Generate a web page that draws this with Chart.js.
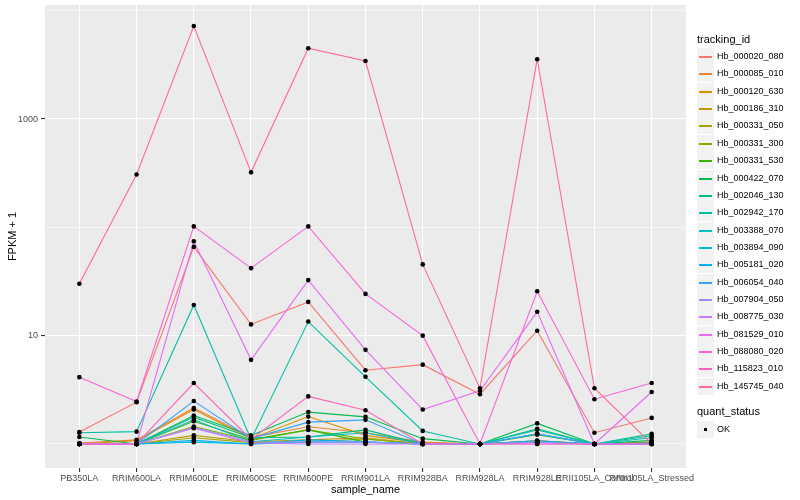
<!DOCTYPE html>
<html>
<head>
<meta charset="utf-8">
<script src="https://cdn.jsdelivr.net/npm/chart.js@4.4.1/dist/chart.umd.min.js"></script>
<style>
  body { margin: 0; background: #fff; font-family: "Liberation Sans", Arial, sans-serif; }
  #wrap { position: relative; width: 800px; height: 500px; }
  #legend { position: absolute; left: 697px; top: 0; font-size: 9px; color: #000; }
  .ltitle { position: absolute; left: 0; font-size: 11px; white-space: nowrap; }
  .row { position: absolute; left: 0; height: 17px; width: 100px; }
  .key { position: absolute; left: 0; top: 0; width: 17px; height: 17px; background: #f2f2f2; }
  .key i { position: absolute; left: 2px; right: 2px; top: 8px; height: 1.5px; }
  .key b { position: absolute; left: 7px; top: 7px; width: 3px; height: 3px; background: #000; }
  .lab { position: absolute; left: 20px; top: 3px; white-space: nowrap; }
</style>
</head>
<body>
<div id="wrap">
  <canvas id="chart" width="800" height="500"></canvas>
  <div id="legend"></div>
</div>
<script>
// Categories and tick labels
const categories = ["PB350LA", "RRIM600LA", "RRIM600LE", "RRIM600SE", "RRIM600PE", "RRIM901LA",
    "RRIM928BA", "RRIM928LA", "RRIM928LE", "RRII105LA_Control", "RRII105LA_Stressed"];
const yTickValues = [1, 10, 100, 1000, 10000];
const yTickLabels = ["", "10", "", "1000", ""];

const trackingIds = ["Hb_000020_080", "Hb_000085_010", "Hb_000120_630", "Hb_000186_310", "Hb_000331_050",
    "Hb_000331_300", "Hb_000331_530", "Hb_000422_070", "Hb_002046_130", "Hb_002942_170",
    "Hb_003388_070", "Hb_003894_090", "Hb_005181_020", "Hb_006054_040", "Hb_007904_050",
    "Hb_008775_030", "Hb_081529_010", "Hb_088080_020", "Hb_115823_010", "Hb_145745_040"];
const seriesColors = ["#F8766D", "#EA8331", "#D89000", "#C09B00", "#A3A500", "#7CAE00", "#39B600",
    "#00BB4E", "#00BF7D", "#00C1A3", "#00BFC4", "#00BAE0", "#00B0F6", "#35A2FF", "#9590FF",
    "#C77CFF", "#E76BF3", "#FA62DB", "#FF62BC", "#FF6C91"];

// FPKM + 1 per sample
const hb000020_080 = [1.29, 2.43, 66, 12.7, 20.5, 4.8, 5.4, 2.88, 11.1, 1.27, 1.74];
const hb000085_010 = [1.02, 1.09, 2.15, 1.15, 1.44, 1.27, 1.04, 1, 1.05, 1, 1.04];
const hb000120_630 = [1, 1.07, 2.08, 1.12, 1.79, 1.2, 1.02, 1, 1.04, 1, 1.03];
const hb000186_310 = [1, 1, 1.2, 1.05, 1.09, 1.14, 1, 1, 1.07, 1, 1.02];
const hb000331_050 = [1, 1, 1.14, 1.03, 1.05, 1.11, 1, 1, 1.04, 1, 1];
const hb000331_300 = [1, 1, 1.45, 1.08, 1.35, 1.11, 1, 1, 1.07, 1, 1.02];
const hb000331_530 = [1, 1, 1.62, 1.1, 1.35, 1.04, 1, 1, 1.22, 1, 1.02];
const hb000422_070 = [1.16, 1, 1.83, 1.2, 1.97, 1.78, 1.12, 1, 1.55, 1, 1.08];
const hb002046_130 = [1, 1, 1.77, 1.14, 1.16, 1.35, 1, 1, 1.38, 1, 1.19];
const hb002942_170 = [1.27, 1.3, 19.2, 1.1, 13.5, 4.17, 1.32, 1, 1.35, 1, 1.24];
const hb003388_070 = [1, 1, 1.67, 1.05, 1.16, 1.27, 1, 1, 1.24, 1, 1.14];
const hb003894_090 = [1, 1, 1.04, 1, 1.04, 1.04, 1, 1, 1.04, 1, 1];
const hb005181_020 = [1, 1, 1.08, 1, 1.09, 1.05, 1, 1, 1.07, 1, 1];
const hb006054_040 = [1, 1, 2.49, 1.12, 1.59, 1.67, 1, 1, 1.24, 1, 1.02];
const hb007904_050 = [1, 1, 1.42, 1.05, 1.04, 1.04, 1, 1, 1.04, 1, 1];
const hb008775_030 = [1, 1, 1.4, 1.02, 1, 1, 1, 1, 1, 1, 1];
const hb081529_010 = [1, 1, 74.5, 5.98, 32.6, 7.4, 2.08, 3.1, 16.6, 1, 3.02];
const hb088080_020 = [4.14, 2.47, 102, 42, 102, 24.3, 10, 1, 25.7, 2.59, 3.65];
const hb115823_010 = [1, 1, 3.65, 1.1, 2.75, 2.05, 1, 1, 1, 1, 1];
const hb145745_040 = [30.2, 308, 7240, 322, 4510, 3430, 45.5, 3.27, 3570, 3.27, 1];

const seriesValues = [hb000020_080, hb000085_010, hb000120_630, hb000186_310, hb000331_050,
    hb000331_300, hb000331_530, hb000422_070, hb002046_130, hb002942_170, hb003388_070,
    hb003894_090, hb005181_020, hb006054_040, hb007904_050, hb008775_030, hb081529_010,
    hb088080_020, hb115823_010, hb145745_040];

const n = seriesValues.length;
const datasets = seriesValues.map((vals, s) => ({
    type: "line",
    label: trackingIds[s],
    data: vals.map((v, i) => ({ x: i, y: v })),
    borderColor: seriesColors[s],
    borderWidth: 1.1,
    pointRadius: 0,
    tension: 0,
    order: n - s + 1, // later levels on top, like ggplot
}));
// all points in black, drawn above every line
datasets.push({
    type: "scatter",
    label: "OK",
    data: seriesValues.flatMap((vals) => vals.map((v, i) => ({ x: i, y: v }))),
    pointBackgroundColor: "#000",
    pointBorderWidth: 0,
    pointRadius: 2.3,
    order: 0,
});

// grey panel
const panelBg = {
    id: "panelBg",
    beforeDraw(chart) {
        const a = chart.chartArea;
        chart.ctx.save();
        chart.ctx.fillStyle = "#EBEBEB";
        chart.ctx.fillRect(a.left, a.top, a.right - a.left, a.bottom - a.top);
        chart.ctx.restore();
    },
};

const tickFont = { family: "'Liberation Sans', Arial, sans-serif", size: 9 };
const titleFont = { family: "'Liberation Sans', Arial, sans-serif", size: 11 };

new Chart(document.getElementById("chart"), {
    data: { datasets },
    plugins: [panelBg],
    options: {
        responsive: false,
        animation: false,
        events: [],
        layout: { padding: { top: 5, right: 114, left: 0, bottom: 0 } },
        plugins: { legend: { display: false }, tooltip: { enabled: false } },
        scales: {
            x: {
                type: "linear",
                min: -0.6,
                max: categories.length - 1 + 0.6,
                afterBuildTicks: (scale) => { scale.ticks = categories.map((c, i) => ({ value: i })); },
                afterFit: (scale) => { scale.height = 32; scale.paddingLeft = 0; scale.paddingRight = 0; },
                ticks: {
                    autoSkip: false, maxRotation: 0, minRotation: 0, padding: 1,
                    color: "#4D4D4D", font: tickFont,
                    callback: (v) => categories[v],
                },
                grid: { color: "#fff", lineWidth: 1.1, tickLength: 4, tickColor: "#333", drawTicks: true },
                border: { display: false },
                title: { display: true, text: "sample_name", color: "#000", font: titleFont, padding: { top: 0, bottom: 3 } },
            },
            y: {
                type: "logarithmic",
                min: Math.pow(10, -0.193),
                max: Math.pow(10, 4.053),
                afterBuildTicks: (scale) => { scale.ticks = yTickValues.map((v) => ({ value: v })); },
                afterFit: (scale) => { scale.width = 45; scale.paddingTop = 0; scale.paddingBottom = 0; },
                ticks: {
                    padding: 3, color: "#4D4D4D", font: tickFont,
                    callback: (v) => yTickLabels[yTickValues.indexOf(v)],
                },
                grid: {
                    color: "#fff",
                    lineWidth: (ctx) => (yTickLabels[ctx.index] ? 1.1 : 0.55),
                    tickLength: 4,
                    tickColor: (ctx) => (yTickLabels[ctx.index] ? "#333" : "rgba(0,0,0,0)"),
                },
                border: { display: false },
                title: { display: true, text: "FPKM + 1", color: "#000", font: titleFont, padding: { top: 6, bottom: 0 } },
            },
        },
    },
});

// ggplot-style legends on the right
const legend = document.getElementById("legend");
const rowTop = 48, rowStep = 17.36;
let html = `<div class="ltitle" style="top:33px">tracking_id</div>`;
trackingIds.forEach((id, s) => {
    html += `<div class="row" style="top:${Math.round(rowTop + s * rowStep)}px"><div class="key"><i style="background:${seriesColors[s]}"></i></div><div class="lab">${id}</div></div>`;
});
html += `<div class="ltitle" style="top:405px">quant_status</div>`;
html += `<div class="row" style="top:421px"><div class="key"><b></b></div><div class="lab">OK</div></div>`;
legend.innerHTML = html;
</script>
</body>
</html>
